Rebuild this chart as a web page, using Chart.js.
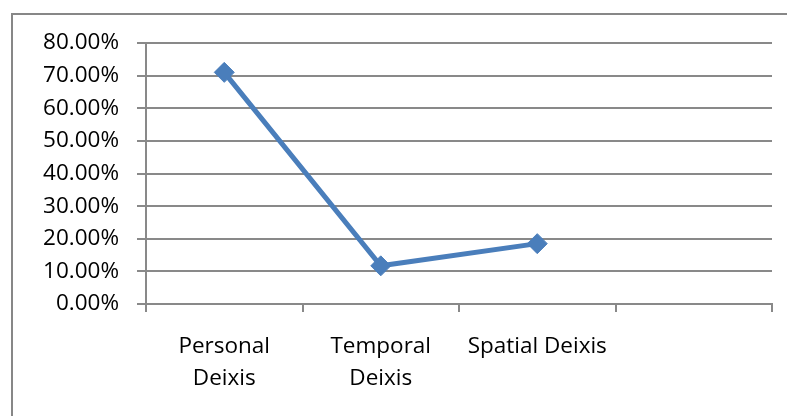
<!DOCTYPE html>
<html>
<head>
<meta charset="utf-8">
<script src="https://cdn.jsdelivr.net/npm/chart.js@4.4.1/dist/chart.umd.min.js"></script>
<style>
  html, body { margin: 0; padding: 0; background: #fff; }
  #frame {
    position: absolute; left: 11px; top: 13px;
    width: 800px; height: 420px;
    border: 2px solid #878787;
  }
  #wrap { position: absolute; left: 0; top: 0; width: 787px; height: 416px; }
</style>
</head>
<body>
<div id="frame"></div>
<div id="wrap"><canvas id="deixisChart" width="787" height="416"></canvas></div>
<script>
  const categories = [["Personal", "Deixis"], ["Temporal", "Deixis"], "Spatial Deixis", ""];
  const percentages = [71.0, 11.7, 18.5, null];
  const yTicks = [0, 10, 20, 30, 40, 50, 60, 70, 80];

  const gridColor = "#898989";
  const lineColor = "#4a7ebb";
  const labelFont = { family: "'Open Sans', sans-serif", size: 22.5 };

  const ctx = document.getElementById("deixisChart").getContext("2d");
  const chart = new Chart(ctx, {
    type: "line",
    data: {
      labels: categories,
      datasets: [{
        label: "Deixis",
        data: percentages,
        borderColor: lineColor,
        backgroundColor: lineColor,
        borderWidth: 5,
        pointStyle: "rectRot",
        pointRadius: 10,
        pointBorderWidth: 1,
        tension: 0,
      }],
    },
    options: {
      responsive: false,
      animation: false,
      layout: { padding: { top: 43, right: 15, left: 0, bottom: 0 } },
      plugins: { legend: { display: false }, tooltip: { enabled: false } },
      scales: {
        x: {
          offset: true,
          grid: {
            offset: true,
            drawOnChartArea: false,
            drawTicks: true,
            tickLength: 8,
            color: gridColor,
            lineWidth: 2,
          },
          border: { color: gridColor, width: 2 },
          ticks: {
            color: "#000",
            font: { ...labelFont, lineHeight: 1.42 },
            padding: 19,
            maxRotation: 0,
            autoSkip: false,
          },
          afterFit: (s) => { s.height = 112; },
        },
        y: {
          min: 0,
          max: 80,
          afterBuildTicks: (s) => { s.ticks = yTicks.map(v => ({ value: v })); },
          grid: {
            color: gridColor,
            lineWidth: 2,
            tickLength: 9,
          },
          border: { color: gridColor, width: 2 },
          ticks: {
            color: "#000",
            font: labelFont,
            padding: 18,
            callback: (v) => v.toFixed(2) + "%",
          },
          afterFit: (s) => { s.width = 146; },
        },
      },
    },
  });
</script>
</body>
</html>
